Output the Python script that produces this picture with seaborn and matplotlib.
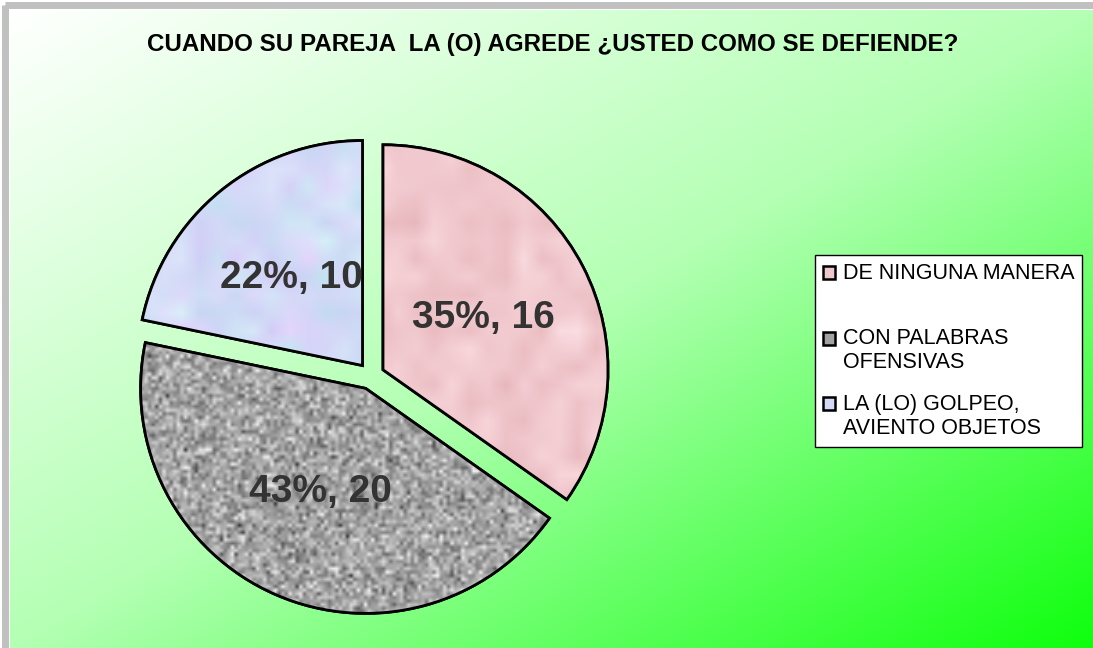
import numpy as np
import matplotlib
matplotlib.use("Agg")
import matplotlib.pyplot as plt
import seaborn as sns
from matplotlib.patches import Rectangle, Wedge
from matplotlib.legend_handler import HandlerPatch

# datos del grafico
titulo = "CUANDO SU PAREJA  LA (O) AGREDE ¿USTED COMO SE DEFIENDE?"
categorias = ["DE NINGUNA MANERA\n ", "CON PALABRAS\nOFENSIVAS", "LA (LO) GOLPEO,\nAVIENTO OBJETOS"]
cantidades = [16, 20, 10]
colores = ["#efc6ca", "#a2a2a2", "#d4d9f6"]

sns.set_style("white")
plt.rcParams["font.family"] = ["Liberation Sans", "DejaVu Sans"]

W, H = 1093, 648
fig = plt.figure(figsize=(W / 100, H / 100), dpi=100)

# --------------------------
# fondo degradado blanco -> verde
# --------------------------
bg = fig.add_axes([0, 0, 1, 1], zorder=-10)
xx, yy = np.meshgrid(np.linspace(0, 1, 400), np.linspace(0, 1, 240))
t = (xx + yy) / 2
rb = np.where(t < 0.5, 255 - (255 - 180) * t / 0.5, 180 - (180 - 14) * (t - 0.5) / 0.5) / 255
grad = np.dstack([rb, np.ones_like(rb), rb])
bg.imshow(grad, extent=(10, W, H, 10), aspect="auto", interpolation="bilinear")
bg.add_patch(Rectangle((5, 5), W, H, fill=False, edgecolor="#c0c0c0", linewidth=5))
bg.set_xlim(0, W)
bg.set_ylim(H, 0)
bg.axis("off")

# --------------------------
# pastel
# --------------------------
ax = fig.add_axes([0.0924, 0.0031, 0.4941, 0.8333])
total = sum(cantidades)

def etiqueta(pct):
    return f"{pct:.0f}%, {round(pct * total / 100)}"

wedges, textos, autotextos = ax.pie(
    cantidades, colors=colores, startangle=90, counterclock=False,
    explode=[0.06] * len(cantidades), autopct=etiqueta, pctdistance=0.5,
    wedgeprops=dict(edgecolor="black", linewidth=2),
    textprops=dict(fontsize=28, fontweight="bold", color="#333333"),
)

# textura de relleno (solo decorativa)
rng = np.random.default_rng(3)
tex_gris = 0.64 + 0.13 * rng.standard_normal((150, 150))
tex_gris = np.clip(tex_gris, 0.2, 0.95)
tex_gris = np.dstack([tex_gris] * 3)
m = rng.standard_normal((30, 30))
tex_rosa = np.dstack([np.full_like(m, 0.94) + 0.015 * m,
                      0.78 + 0.03 * m, 0.80 + 0.03 * m])
m2 = rng.standard_normal((30, 30))
m3 = rng.standard_normal((30, 30))
tex_azul = np.dstack([0.83 + 0.03 * m2, 0.86 + 0.03 * m3, 0.97 + 0.01 * m2])
for w, tex in zip(wedges, [tex_rosa, tex_gris, tex_azul]):
    img = ax.imshow(np.clip(tex, 0, 1), extent=(-1.2, 1.2, -1.2, 1.2),
                    interpolation="bilinear", zorder=w.get_zorder() + 0.1)
    img.set_clip_path(w)
    borde = Wedge(w.center, w.r, w.theta1, w.theta2, fill=False,
                  edgecolor="black", linewidth=2, zorder=w.get_zorder() + 0.2)
    ax.add_patch(borde)
for txt in autotextos:
    txt.set_zorder(5)
ax.set_xlim(-1.2, 1.2)
ax.set_ylim(-1.2, 1.2)
ax.set_aspect("equal")
ax.axis("off")

# --------------------------
# titulo y leyenda
# --------------------------
fig.text(553 / W, 1 - 44 / H, titulo, ha="center", va="center",
         fontsize=17.4, fontweight="bold", color="black")


class CuadroArriba(HandlerPatch):
    # coloca el cuadrito a la altura de la primera linea del texto
    def _create_patch(self, legend, orig_handle, xdescent, ydescent,
                      width, height, fontsize):
        return Rectangle((-xdescent, -ydescent + 0.6 * fontsize), width, height)


leg = fig.legend(wedges, categorias, loc="upper left",
                 bbox_to_anchor=(815 / W, 1 - 255 / H), borderaxespad=0,
                 fontsize=15.5, frameon=True, fancybox=False, framealpha=1,
                 edgecolor="black", facecolor="white", labelcolor="black",
                 handlelength=0.56, handleheight=0.56, handletextpad=0.37,
                 labelspacing=0.95, borderpad=0.35,
                 handler_map={w: CuadroArriba() for w in wedges})
leg.get_frame().set_linewidth(1)
for h in leg.legend_handles:
    h.set_edgecolor("black")
    h.set_linewidth(1.8)

fig.savefig("out.png", dpi=100)
